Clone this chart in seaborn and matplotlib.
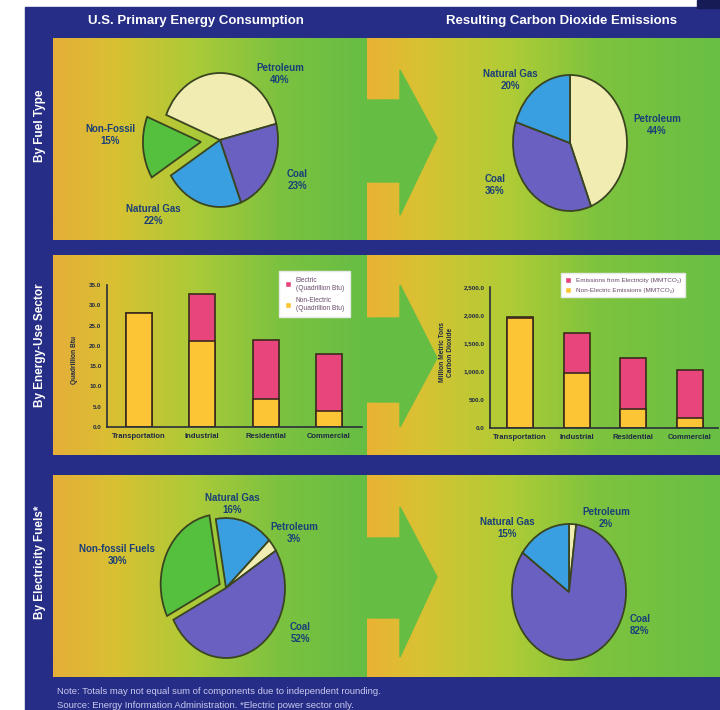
import numpy as np
import pandas as pd
import matplotlib
matplotlib.use("Agg")
import matplotlib.pyplot as plt
import seaborn as sns
from matplotlib.colors import LinearSegmentedColormap
from matplotlib.patches import Rectangle, Polygon, Patch

# ---- data ----
fuel_labels = ["Petroleum", "Coal", "Natural Gas", "Non-Fossil"]
fuel_energy_pct = [40, 23, 22, 15]
fuel_co2_labels = ["Petroleum", "Coal", "Natural Gas"]
fuel_co2_pct = [44, 36, 20]

sectors = ["Transportation", "Industrial", "Residential", "Commercial"]
energy_nonelec = [28.0, 21.2, 6.8, 3.9]       # quadrillion Btu
energy_elec = [0.1, 11.5, 14.6, 14.1]
co2_nonelec = [1950.0, 975.0, 331.0, 177.0]   # million metric tons CO2
co2_elec = [12.0, 709.0, 910.0, 857.0]

elec_fuel_labels = ["Natural Gas", "Petroleum", "Coal", "Non-fossil Fuels"]
elec_fuel_pct = [16, 3, 52, 30]
elec_co2_labels = ["Petroleum", "Coal", "Natural Gas"]
elec_co2_pct = [2, 82, 15]

# ---- style ----
sns.set_style("white")
plt.rcParams["font.family"] = ["Liberation Sans", "DejaVu Sans"]

W, H = 720, 710
NAVY = "#262d86"
LABEL = "#1a3f78"
EDGE = "#3a4520"
BAR_EDGE = "#3b2a1c"
PINK = "#e8457c"
YELLOW = "#fcc536"
fuel_colors = {"Petroleum": "#f1ecb2", "Coal": "#6a60c2", "Natural Gas": "#3a9fe0",
               "Non-Fossil": "#55bf3e", "Non-fossil Fuels": "#55bf3e"}

fig = plt.figure(figsize=(W / 100, H / 100), dpi=100)
bg = fig.add_axes([0, 0, 1, 1])
bg.axis("off")

# frame
bg.add_patch(Rectangle((25, 7), W - 25, H - 7, color=NAVY, zorder=0))
bg.add_patch(Rectangle((697, 0), 23, 8, color="#161a55", zorder=0))

left_cmap = LinearSegmentedColormap.from_list(
    "left", [(0, "#e6ae3a"), (0.2, "#d8c132"), (0.45, "#acca38"), (0.72, "#7cc240"), (1, "#66bd44")])
right_cmap = LinearSegmentedColormap.from_list(
    "right", [(0, "#eab234"), (0.15, "#d8c232"), (0.4, "#b0cc36"), (0.65, "#7ec33e"), (1, "#68bf44")])

grad = np.linspace(0, 1, 256).reshape(1, -1)
panels = [(38, 240), (255, 455), (475, 677)]
for y0, y1 in panels:
    bg.imshow(grad, cmap=left_cmap, extent=(53, 367, y1, y0), aspect="auto", zorder=1)
    bg.imshow(grad, cmap=right_cmap, extent=(367, 720, y1, y0), aspect="auto", zorder=1)

# arrows between the halves
arrows = [(100, 182, 70, 215, 138), (318, 402, 285, 427, 358), (538, 618, 507, 657, 577)]
for s0, s1, h0, h1, tip in arrows:
    pts = [(366, s0), (400, s0), (400, h0), (437, tip), (400, h1), (400, s1), (366, s1)]
    bg.add_patch(Polygon(pts, closed=True, color="#66bd44", zorder=2))

bg.set_xlim(0, W)
bg.set_ylim(H, 0)

# headers and side labels
bg.text(196, 21, "U.S. Primary Energy Consumption", color="white", fontsize=9.5,
        weight="bold", ha="center", va="center")
bg.text(561, 21, "Resulting Carbon Dioxide Emissions", color="white", fontsize=9.5,
        weight="bold", ha="center", va="center")
for txt, yc in [("By Fuel Type", 126), ("By Energy-Use Sector", 345), ("By Electricity Fuels*", 562)]:
    bg.text(40, yc, txt, color="white", fontsize=8.5, weight="bold", rotation=90,
            ha="center", va="center")

bg.text(57, 692, "Note: Totals may not equal sum of components due to independent rounding.",
        color="#c9c9ee", fontsize=6.8, ha="left", va="center")
bg.text(57, 706, "Source: Energy Information Administration. *Electric power sector only.",
        color="#c9c9ee", fontsize=6.8, ha="left", va="center")


def pie_axes(cx, cy, rx, ry, pad=1.6):
    ax = fig.add_axes([(cx - pad * rx) / W, 1 - (cy + pad * ry) / H,
                       2 * pad * rx / W, 2 * pad * ry / H])
    ax.axis("off")
    return ax


def draw_pie(cx, cy, rx, ry, labels, values, start, explode=None):
    ax = pie_axes(cx, cy, rx, ry)
    ax.pie(values, colors=[fuel_colors[l] for l in labels], startangle=start,
           counterclock=False, explode=explode,
           wedgeprops=dict(edgecolor=EDGE, linewidth=1.3))
    ax.set_aspect("auto")
    ax.set_xlim(-1.6, 1.6)
    ax.set_ylim(-1.6, 1.6)
    return ax


def pie_label(x, y, name, pct):
    bg.text(x, y, f"{name}\n{pct}%", color=LABEL, fontsize=7, weight="bold",
            ha="center", va="center", linespacing=1.15)


# by fuel type
draw_pie(220, 140, 58, 67, fuel_labels, fuel_energy_pct, 158, explode=[0, 0, 0, 0.33])
for (x, y), name, pct in zip([(280, 74), (297, 180), (153, 215), (110, 135)], fuel_labels, fuel_energy_pct):
    pie_label(x, y, name, pct)

draw_pie(570, 143, 57, 68, fuel_co2_labels, fuel_co2_pct, 90)
for (x, y), name, pct in zip([(657, 125), (495, 185), (510, 80)], fuel_co2_labels, fuel_co2_pct):
    pie_label(x, y, name, pct)

# by electricity fuels
draw_pie(226, 588, 59, 70, elec_fuel_labels, elec_fuel_pct, 100, explode=[0, 0, 0, 0.12])
for (x, y), name, pct in zip([(232, 504), (294, 533), (300, 633), (117, 555)], elec_fuel_labels, elec_fuel_pct):
    pie_label(x, y, name, pct)

draw_pie(569, 592, 57, 68, elec_co2_labels, elec_co2_pct, 90)
for (x, y), name, pct in zip([(606, 518), (640, 625), (507, 528)], elec_co2_labels, elec_co2_pct):
    pie_label(x, y, name, pct)


# ---- stacked bars by sector ----
def bar_axes(x0, y0, x1, y1):
    ax = fig.add_axes([x0 / W, 1 - y1 / H, (x1 - x0) / W, (y1 - y0) / H])
    ax.patch.set_alpha(0)
    return ax


def stacked(ax, nonelec, elec, width):
    df = pd.DataFrame({"sector": sectors, "nonelec": nonelec,
                       "total": np.add(nonelec, elec)})
    sns.barplot(data=df, x="sector", y="total", color=PINK, saturation=1, width=width,
                edgecolor=BAR_EDGE, linewidth=1.2, ax=ax)
    sns.barplot(data=df, x="sector", y="nonelec", color=YELLOW, saturation=1, width=width,
                edgecolor=BAR_EDGE, linewidth=1.2, ax=ax)
    ax.set_xlabel("")
    ax.set_ylabel("")
    for s in ["top", "right"]:
        ax.spines[s].set_visible(False)
    for s in ["left", "bottom"]:
        ax.spines[s].set_color("#2a2f3a")
        ax.spines[s].set_linewidth(1.2)
    ax.tick_params(axis="both", length=2, width=0.8, colors="#2a2f3a", pad=2)
    for t in ax.get_xticklabels():
        t.set_fontsize(5.5)
        t.set_fontweight("bold")
        t.set_color("#1f2a44")


ax1 = bar_axes(107, 285, 362, 427)
stacked(ax1, energy_nonelec, energy_elec, 0.41)
ax1.set_xlim(-0.5, 3.52)
ax1.set_ylim(0, 35)
ax1.set_yticks(np.arange(0, 36, 5))
ax1.set_yticklabels([f"{v:.1f}" for v in np.arange(0, 36, 5)], fontsize=4.5,
                    fontweight="bold", color="#1f2a44")
bg.text(74, 360, "Quadrillion Btu", rotation=90, fontsize=4.8, weight="bold",
        color="#1f2a44", ha="center", va="center")
ax1.legend(handles=[Patch(facecolor=PINK), Patch(facecolor=YELLOW)],
           labels=["Electric\n(Quadrillion Btu)", "Non-Electric\n(Quadrillion Btu)"],
           loc="upper left", bbox_to_anchor=(276, 268), bbox_transform=bg.transData,
           fontsize=4.8, frameon=True, fancybox=False, framealpha=1, edgecolor="#e8e8e8",
           handlelength=0.9, handleheight=1.0, borderpad=0.8, labelspacing=0.8,
           labelcolor="#6a4a6a")

ax2 = bar_axes(490, 287, 718, 428)
stacked(ax2, co2_nonelec, co2_elec, 0.46)
ax2.set_xlim(-0.53, 3.5)
ax2.set_ylim(0, 2500)
ax2.set_yticks(np.arange(0, 2501, 500))
ax2.set_yticklabels([f"{v:,.1f}" for v in np.arange(0, 2501, 500)], fontsize=4.5,
                    fontweight="bold", color="#1f2a44")
bg.text(447, 352, "Million Metric Tons\nCarbon Dioxide", rotation=90, fontsize=4.8,
        weight="bold", color="#1f2a44", ha="center", va="center")
ax2.legend(handles=[Patch(facecolor=PINK), Patch(facecolor=YELLOW)],
           labels=["Emissions from Electricity (MMTCO₂)", "Non-Electric Emissions (MMTCO₂)"],
           loc="upper left", bbox_to_anchor=(558, 270), bbox_transform=bg.transData,
           fontsize=4.6, frameon=True, fancybox=False, framealpha=1, edgecolor="#e8e8e8",
           handlelength=0.9, handleheight=1.0, borderpad=0.6, labelspacing=0.6,
           labelcolor="#6a4a6a")

fig.savefig("out.png", dpi=100)
